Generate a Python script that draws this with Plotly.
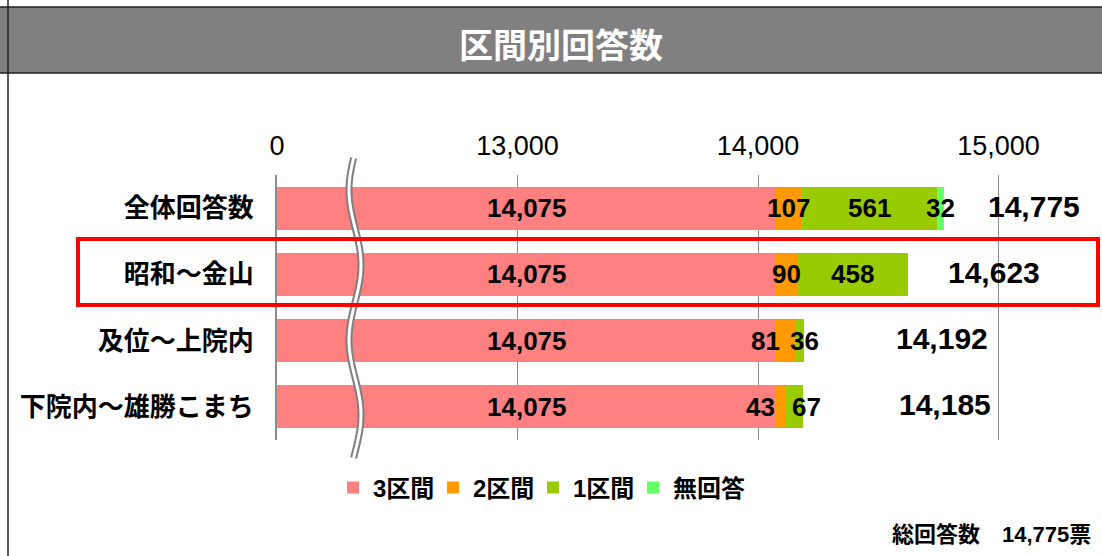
import numpy as np
import plotly.graph_objects as go

# ---------------- data ----------------
categories = ["全体回答数", "昭和～金山", "及位～上院内", "下院内～雄勝こまち"]
series_names = ["3区間", "2区間", "1区間", "無回答"]
sec3 = [14075, 14075, 14075, 14075]
sec2 = [107, 90, 81, 43]
sec1 = [561, 458, 36, 67]
no_answer = [32, 0, 0, 0]
totals = [14775, 14623, 14192, 14185]
tick_vals = [12000, 13000, 14000, 15000]
tick_text = ["0", "13,000", "14,000", "15,000"]
grand_total = 14775

# ---------------- styles ----------------
colors = ["#FF8080", "#FF9900", "#99CC00", "#66FF66"]
X_RANGE = [12000, 15380]
W_FIG, H_FIG = 1102, 556
PL, PR, PT, PB = 277, 1090, 175, 440
PW, PH = PR - PL, PB - PT

NUM_FONT = "Liberation Sans, Arial, Noto Sans CJK JP, sans-serif"
JP_FONT = "Noto Sans CJK JP, sans-serif"
MIX_FONT = "Liberation Sans, Noto Sans CJK JP, sans-serif"


def px(x):
    return (x - PL) / PW


def py(y):
    return (PB - y) / PH


series = [sec3, sec2, sec1, no_answer]
fig = go.Figure()
for name, vals, col in zip(series_names, series, colors):
    fig.add_trace(go.Bar(
        y=categories, x=vals, name=name, orientation="h",
        marker=dict(color=col, line=dict(width=0)),
        hoverinfo="x+name",
    ))
# invisible spacer entry so the last legend label is not clipped
fig.add_trace(go.Scatter(
    x=[None], y=[None], mode="markers", name=" ",
    marker=dict(color="rgba(0,0,0,0)"), showlegend=True, hoverinfo="skip",
))

annotations = []
# segment labels
seg_shift = [
    [0, 0, 0, 0],
    [0, 0, 0, 0],
    [0, -20, 5, 0],
    [0, -21, 12, 0],
]
for i, cat in enumerate(categories):
    cum = 0
    for k, vals in enumerate(series):
        v = vals[i]
        if v > 0:
            if k == 0:
                xc = (max(X_RANGE[0], cum) + cum + v) / 2
            else:
                xc = cum + v / 2
            annotations.append(dict(
                x=xc, y=cat, xref="x", yref="y", text=f"{v:,}", showarrow=False,
                xanchor="center", yanchor="middle", xshift=seg_shift[i][k],
                font=dict(family=NUM_FONT, size=26, color="black", weight="bold"),
            ))
        cum += v

# totals
total_shift = [42, 38, 90, 94]
for i, cat in enumerate(categories):
    annotations.append(dict(
        x=totals[i], y=cat, xref="x", yref="y", text=f"{totals[i]:,}", showarrow=False,
        xanchor="left", yanchor="middle", xshift=total_shift[i], yshift=2,
        font=dict(family=NUM_FONT, size=30, color="black", weight="bold"),
    ))

# title
annotations.append(dict(
    x=px(561), y=py(43), xref="paper", yref="paper", text="区間別回答数",
    showarrow=False, xanchor="center", yanchor="middle",
    font=dict(family=JP_FONT, size=34, color="white", weight="bold"),
))
# bottom-right total text
annotations.append(dict(
    x=px(1093), y=py(534), xref="paper", yref="paper",
    text=f"総回答数　{grand_total:,}票", showarrow=False,
    xanchor="right", yanchor="middle",
    font=dict(family=MIX_FONT, size=22, color="black", weight="bold"),
))

shapes = []
# title bar
shapes.append(dict(type="rect", xref="paper", yref="paper",
                   x0=px(-5), x1=px(1110), y0=py(73), y1=py(7),
                   fillcolor="#808080", line=dict(width=0), layer="below"))
for yy in (7, 73):
    shapes.append(dict(type="line", xref="paper", yref="paper",
                       x0=px(0), x1=px(1102), y0=py(yy), y1=py(yy),
                       line=dict(color="#222222", width=1.5)))
# left frame line
shapes.append(dict(type="line", xref="paper", yref="paper",
                   x0=px(8), x1=px(8), y0=py(0), y1=py(556),
                   line=dict(color="#222222", width=1.5)))

# axis break (wavy double line)
ys = np.linspace(158, 458, 120)
xs = 355 - 6 * np.cos(2 * np.pi * (ys - 190) / 150)
path = "M " + " L ".join(f"{px(a):.5f},{py(b):.5f}" for a, b in zip(xs, ys))
shapes.append(dict(type="path", xref="paper", yref="paper", path=path,
                   line=dict(color="#7f7f7f", width=7)))
shapes.append(dict(type="path", xref="paper", yref="paper", path=path,
                   line=dict(color="white", width=3)))

# red highlight box
shapes.append(dict(type="rect", xref="paper", yref="paper",
                   x0=px(78), x1=px(1098), y0=py(305), y1=py(239),
                   line=dict(color="#FF0000", width=4)))

fig.update_layout(
    width=W_FIG, height=H_FIG,
    margin=dict(l=PL, r=W_FIG - PR, t=PT, b=H_FIG - PB, pad=0),
    paper_bgcolor="white", plot_bgcolor="white",
    barmode="stack", bargap=0.35,
    showlegend=True,
    legend=dict(orientation="h", x=px(333), y=py(488), xanchor="left", yanchor="middle",
                font=dict(family=MIX_FONT, size=24, color="black", weight="bold"),
                traceorder="normal", itemclick=False, itemdoubleclick=False,
                entrywidth=55, entrywidthmode="pixels",
                bgcolor="rgba(0,0,0,0)"),
    annotations=annotations,
    shapes=shapes,
    xaxis=dict(
        range=X_RANGE, side="top", tickvals=tick_vals, ticktext=tick_text,
        showgrid=True, gridcolor="#8c8c8c", gridwidth=1, zeroline=False,
        showline=False, ticks="", ticklabelstandoff=14,
        tickfont=dict(family=NUM_FONT, size=27, color="black"),
        fixedrange=True,
    ),
    yaxis=dict(
        categoryorder="array", categoryarray=categories, autorange="reversed",
        showline=True, linecolor="#8c8c8c", linewidth=2, showgrid=False,
        ticks="", ticklabelstandoff=16,
        tickfont=dict(family=JP_FONT, size=26, color="black", weight="bold"),
        fixedrange=True,
    ),
)

fig.write_html(
    "out.html",
    config={"displayModeBar": False},
    post_script="document.body.style.margin='0';document.body.style.overflow='hidden';",
)
